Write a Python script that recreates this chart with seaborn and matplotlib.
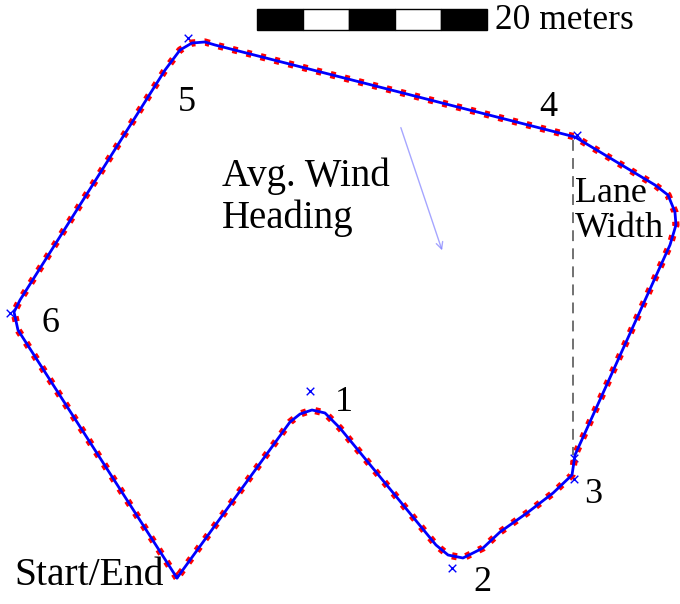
import matplotlib
matplotlib.use("Agg")
import matplotlib.pyplot as plt
import seaborn as sns
import pandas as pd
from matplotlib.patches import Rectangle

# Path driven (meters, origin at Start/End)
path_x = [0.0, -13.83, -14.17, -13.65, -1.04, 0.26, 1.30, 2.43, 3.30, 34.61, 41.57, 42.70,
          43.30, 43.39, 42.87, 34.61, 34.35, 32.70, 30.43, 28.09, 26.61, 24.87, 23.57, 22.52,
          14.17, 12.87, 11.74, 10.70, 9.83, 0.0]
path_y = [0.0, 21.57, 23.13, 24.17, 44.17, 45.91, 46.52, 46.61, 46.35, 38.35, 34.17, 33.30,
          31.83, 30.70, 28.96, 10.70, 8.96, 7.39, 5.65, 4.00, 2.61, 1.74, 2.00, 2.87,
          13.04, 14.35, 14.61, 14.26, 13.57, 0.0]

# Waypoints
wp_x = [11.57, 23.91, 34.52, 34.52, 34.78, 0.96, -14.52]
wp_y = [16.26, 0.87, 10.43, 8.61, 38.52, 46.96, 23.04]

# Labels
lbl_text = ["1", "2", "3", "4", "5", "6"]
lbl_x = [14.52, 26.52, 36.17, 32.26, 0.87, -11.04]
lbl_y = [15.30, -0.43, 7.30, 40.87, 41.39, 22.17]

scale_len = 20.0
scale_segments = 5

sns.set_theme(style="white")
plt.rcParams['font.family'] = ['Liberation Serif', 'DejaVu Serif']
plt.rcParams['text.color'] = 'black'

fig = plt.figure(figsize=(6.8, 6.04), dpi=100)
ax = fig.add_axes([0, 0, 1, 1])

df = pd.DataFrame({"x": path_x, "y": path_y})
sns.lineplot(data=df, x="x", y="y", sort=False, estimator=None, color="red",
             lw=5.2, linestyle=(0, (0.7, 1.3)), ax=ax)
sns.lineplot(data=df, x="x", y="y", sort=False, estimator=None, color="blue",
             lw=2.0, ax=ax)
sns.scatterplot(x=wp_x, y=wp_y, marker="x", color="blue", s=30, linewidth=1.0, ax=ax)

# Lane width dashed line
ax.plot([34.43, 34.43], [38.09, 10.70], color="#666666", lw=1.3, dashes=(6, 4))

# Wind arrow
ax.annotate("", xy=(23.13, 28.26), xytext=(19.39, 39.39),
            arrowprops=dict(arrowstyle="->", color="#8080ff", lw=1.0, alpha=0.7))

# Scale bar
sx0, sy0, sh = 6.96, 47.65, 1.83
seg = scale_len / scale_segments
for i in range(scale_segments):
    ax.add_patch(Rectangle((sx0 + i * seg, sy0), seg, sh,
                           facecolor="black" if i % 2 == 0 else "white",
                           edgecolor="black", lw=1.0))
ax.text(27.65, 48.52, "20 meters", fontsize=25.5, ha="left", va="center", color="black")

for t, x, y in zip(lbl_text, lbl_x, lbl_y):
    ax.text(x, y, t, fontsize=26, ha="center", va="center", color="black")

ax.text(-14.17, 0.26, "Start/End", fontsize=28.5, ha="left", va="center", color="black")
ax.text(3.91, 33.13, "Avg. Wind\nHeading", fontsize=28, ha="left", va="center",
        linespacing=1.15, color="black")
ax.text(34.61, 31.91, "Lane\nWidth", fontsize=26, ha="left", va="center",
        linespacing=1.05, color="black")

ax.set_xlim(-15.39, 43.74)
ax.set_ylim(-2.26, 50.26)
ax.set_axis_off()
fig.savefig("out.png", dpi=100)
